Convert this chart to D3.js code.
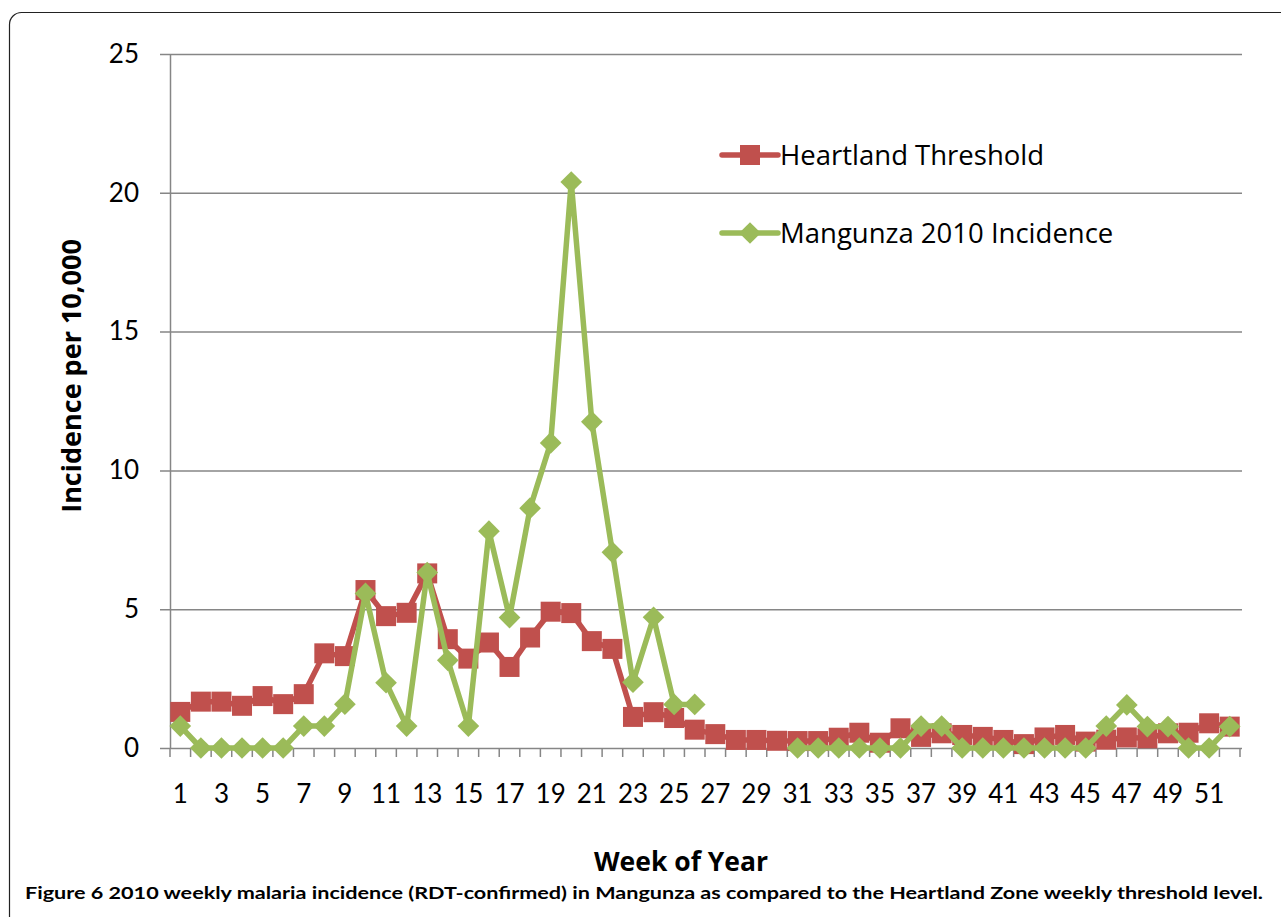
<!DOCTYPE html>
<html>
<head>
<meta charset="UTF-8">
<title>Weekly malaria incidence, Mangunza 2010</title>
<script src="https://d3js.org/d3.v7.min.js"></script>
<style>
  body { margin: 0; background: #fff; }
  svg text { font-family: Lato, "Open Sans", sans-serif; fill: #000; }
  svg text.wide { font-family: "Open Sans", sans-serif; }
</style>
</head>
<body>
<svg id="chart" width="1281" height="917"></svg>
<script>
// week numbers on the x axis
var weeks = d3.range(1, 53);
var yTicks = [0, 5, 10, 15, 20, 25];

// Heartland Zone weekly threshold (incidence per 10,000)
var threshold = [1.3, 1.67, 1.67, 1.52, 1.87, 1.58, 1.94, 3.41, 3.31, 5.69,
                 4.75, 4.87, 6.29, 3.92, 3.22, 3.8, 2.92, 3.98, 4.91, 4.86,
                 3.85, 3.57, 1.12, 1.29, 1.08, 0.66, 0.5, 0.29, 0.29, 0.26,
                 0.25, 0.25, 0.37, 0.55, 0.19, 0.71, 0.4, 0.53, 0.47, 0.4,
                 0.29, 0.14, 0.38, 0.47, 0.23, 0.3, 0.38, 0.35, 0.53, 0.55,
                 0.89, 0.77];

// Mangunza 2010 incidence (no data for weeks 27-30)
var mangunza = [0.79, 0, 0, 0, 0, 0, 0.79, 0.79, 1.58, 5.57,
                2.35, 0.79, 6.32, 3.16, 0.79, 7.81, 4.7, 8.64, 10.99, 20.39,
                11.75, 7.05, 2.37, 4.71, 1.57, 1.57, null, null, null, null,
                0, 0, 0, 0, 0, 0, 0.79, 0.79, 0, 0,
                0, 0, 0, 0, 0, 0.79, 1.55, 0.77, 0.77, 0,
                0, 0.77];

var seriesNames = ["Heartland Threshold", "Mangunza 2010 Incidence"];
var red = "#C0504D", green = "#9BBB59", axisGrey = "#868686";

var svg = d3.select("#chart");

// outer frame
svg.append("rect")
    .attr("x", 9.5).attr("y", 12.5)
    .attr("width", 1290).attr("height", 920)
    .attr("rx", 12).attr("ry", 12)
    .attr("fill", "none").attr("stroke", "#222").attr("stroke-width", 1.2);

var x = d3.scaleBand().domain(weeks).range([170, 1240]);
var y = d3.scaleLinear().domain([0, 25]).range([748, 54]);
var cx = function(w) { return x(w) + x.bandwidth() / 2; };

// horizontal gridlines
var gy = svg.append("g").attr("transform", "translate(1242,0)")
    .call(d3.axisLeft(y).tickValues(yTicks).tickSize(1242 - 160).tickFormat(""));
gy.select(".domain").remove();
gy.selectAll("line").attr("stroke", axisGrey).attr("stroke-width", 1.5);

// y axis line + labels
var gyl = svg.append("g").attr("transform", "translate(170,0)")
    .call(d3.axisLeft(y).tickValues(yTicks).tickSize(0).tickPadding(31));
gyl.select(".domain").attr("stroke", axisGrey).attr("stroke-width", 1.5);
gyl.selectAll("text").style("font-size", "26px");

// x axis ticks at band edges
var edges = weeks.map(function(w) { return x(w); }).concat([x.range()[1]]);
svg.append("g").selectAll("line").data(edges).join("line")
    .attr("x1", function(d) { return d; }).attr("x2", function(d) { return d; })
    .attr("y1", y(0)).attr("y2", y(0) + 9)
    .attr("stroke", axisGrey).attr("stroke-width", 1.5);

var gx = svg.append("g").attr("transform", "translate(0," + y(0) + ")")
    .call(d3.axisBottom(x).tickValues(weeks.filter(function(w) { return w % 2 === 1; }))
        .tickSize(0).tickPadding(37));
gx.select(".domain").remove();
gx.selectAll("text").style("font-size", "26px");

// axis titles
svg.append("text").attr("class", "wide")
    .attr("transform", "translate(81,376) rotate(-90)")
    .attr("text-anchor", "middle")
    .style("font-size", "27px").style("font-weight", "bold")
    .text("Incidence per 10,000");

svg.append("text").attr("class", "wide")
    .attr("x", 681).attr("y", 871)
    .attr("text-anchor", "middle")
    .style("font-size", "26.5px").style("font-weight", "bold")
    .text("Week of Year");

// series lines
var line = d3.line()
    .defined(function(d) { return d.v !== null; })
    .x(function(d) { return cx(d.w); })
    .y(function(d) { return y(d.v); });

var redData = weeks.map(function(w, i) { return { w: w, v: threshold[i] }; });
var greenData = weeks.map(function(w, i) { return { w: w, v: mangunza[i] }; });

svg.append("path").datum(redData)
    .attr("d", line).attr("fill", "none")
    .attr("stroke", red).attr("stroke-width", 5.5).attr("stroke-linejoin", "round");

svg.append("g").selectAll("rect").data(redData).join("rect")
    .attr("x", function(d) { return cx(d.w) - 10; })
    .attr("y", function(d) { return y(d.v) - 10; })
    .attr("width", 20).attr("height", 20)
    .attr("fill", red);

svg.append("path").datum(greenData)
    .attr("d", line).attr("fill", "none")
    .attr("stroke", green).attr("stroke-width", 5.5).attr("stroke-linejoin", "round");

var diamond = d3.symbol().type(d3.symbolDiamond2).size(300);
svg.append("g").selectAll("path").data(greenData.filter(function(d) { return d.v !== null; }))
    .join("path")
    .attr("transform", function(d) { return "translate(" + cx(d.w) + "," + y(d.v) + ")"; })
    .attr("d", diamond)
    .attr("fill", green);

// legend
var legend = svg.append("g");
[[red, 155], [green, 233]].forEach(function(item, i) {
    var g = legend.append("g").attr("transform", "translate(722," + item[1] + ")");
    g.append("line").attr("x1", 0).attr("x2", 56)
        .attr("stroke", item[0]).attr("stroke-width", 5.5).attr("stroke-linecap", "round");
    if (i === 0) {
        g.append("rect").attr("x", 18).attr("y", -10).attr("width", 20).attr("height", 20).attr("fill", red);
    } else {
        g.append("path").attr("transform", "translate(28,0)").attr("d", diamond).attr("fill", green);
    }
    g.append("text").attr("class", "wide").attr("x", 58).attr("dy", "0.36em")
        .style("font-size", "27.5px").text(seriesNames[i]);
});

// caption
var cap = svg.append("text").attr("x", 25).attr("y", 899)
    .attr("textLength", 1238).attr("lengthAdjust", "spacingAndGlyphs")
    .style("font-size", "17px").style("font-weight", "bold");
cap.append("tspan").text("Figure 6 ");
cap.append("tspan").text("2010 weekly malaria incidence (RDT-confirmed) in Mangunza as compared to the Heartland Zone weekly threshold level.");
</script>
</body>
</html>
